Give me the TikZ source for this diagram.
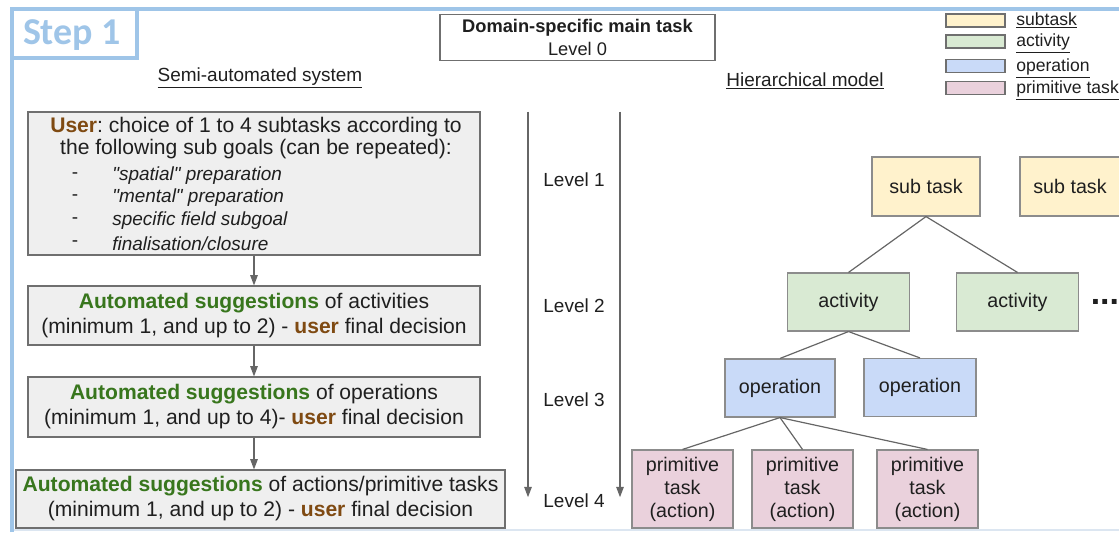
\documentclass[tikz,border=0pt]{standalone}
\usepackage{fontspec}
\setmainfont{Liberation Sans}
\newfontfamily\stepfont{Carlito}
\usepackage{xcolor}
\usepackage{tikz}
\usetikzlibrary{arrows.meta,calc,positioning}
\frenchspacing
\definecolor{Ink}{HTML}{1F1F1F}
\definecolor{FrameBlue}{HTML}{9FC5E8}
\definecolor{FrameFaint}{HTML}{DCE6F1}
\definecolor{BoxGray}{HTML}{EFEFEF}
\definecolor{BoxLine}{HTML}{6F6F6F}
\definecolor{EdgeGray}{HTML}{666666}
\definecolor{UserBrown}{HTML}{7F4A12}
\definecolor{SuggestGreen}{HTML}{38761D}
\definecolor{SubFill}{HTML}{FFF2CC}
\definecolor{ActFill}{HTML}{D9EAD3}
\definecolor{OpFill}{HTML}{C9DAF8}
\definecolor{PrimFill}{HTML}{EAD1DC}
\newcommand{\usr}[1]{\textbf{\color{UserBrown}#1}}
\newcommand{\sugg}{\textbf{\color{SuggestGreen}Automated suggestions}}
\tikzset{
  frameline/.style={draw=FrameBlue,line width=2.8pt},
  titlebox/.style={draw=BoxLine,fill=white,line width=0.8pt,align=center,minimum width=6.875cm,minimum height=1.125cm,font=\fontsize{13}{16}\selectfont,text=Ink},
  heading/.style={font=\fontsize{13.5}{16}\selectfont,text=Ink},
  swatch/.style={draw=BoxLine,line width=0.8pt,minimum width=1.475cm,minimum height=0.325cm,inner sep=0pt},
  legendlabel/.style={anchor=base west,font=\fontsize{12.5}{14}\selectfont,text=Ink,inner sep=0pt},
  stepbox/.style={draw=BoxLine,fill=BoxGray,line width=0.8pt,align=center,font=\fontsize{15}{17.8}\selectfont,text=Ink,inner sep=0pt},
  listdash/.style={font=\fontsize{13.5}{16}\selectfont,text=Ink,inner sep=0pt},
  listitem/.style={anchor=west,font=\fontsize{13.5}{16}\selectfont\itshape,text=Ink,inner sep=0pt},
  flow/.style={-{Triangle[length=2.6mm,width=1.9mm]},draw=EdgeGray,fill=EdgeGray,line width=0.8pt},
  levellabel/.style={font=\fontsize{13.5}{16}\selectfont,text=Ink},
  treebox/.style={draw=BoxLine!80,line width=0.8pt,align=center,font=\fontsize{14}{16.4}\selectfont,text=Ink,inner sep=0pt},
  subtask/.style={treebox,fill=SubFill,minimum width=2.7cm,minimum height=1.475cm},
  activity/.style={treebox,fill=ActFill,minimum width=3.05cm,minimum height=1.45cm},
  operation/.style={treebox,fill=OpFill,minimum width=2.75cm,minimum height=1.45cm},
  primitive/.style={treebox,fill=PrimFill,minimum width=2.525cm,minimum height=1.95cm},
  treeedge/.style={draw=EdgeGray,line width=0.85pt}
}

\begin{document}
\begin{tikzpicture}[x=1cm,y=1cm]
  \useasboundingbox (0,0) rectangle (27.975,13.3);

  % frame and step label
  \draw[FrameFaint,line width=1.4pt] (0.3,0.04) -- (27.975,0.04);
  \draw[frameline] (0.3,0) -- (0.3,13.075) -- (27.975,13.075);
  \draw[frameline] (0.3,11.85) rectangle (3.425,13.075);
  \node[text=FrameBlue,font=\stepfont\bfseries\fontsize{27}{30}\selectfont] (step) at (1.8,12.42) {Step 1};

  % main task and legend
  \node[titlebox] (main) at (14.4375,12.3625) {\textbf{Domain-specific main task}\\Level 0};
  \node[swatch,fill=SubFill] (lgsub) at (24.3875,12.7875) {};
  \node[swatch,fill=ActFill] (lgact) at (24.3875,12.2625) {};
  \node[swatch,fill=OpFill] (lgop) at (24.3875,11.65) {};
  \node[swatch,fill=PrimFill] (lgprim) at (24.3875,11.1) {};
  \node[legendlabel] (lgsubtxt) at (25.4,12.66) {\underline{subtask}};
  \node[legendlabel] (lgacttxt) at (25.4,12.135) {\underline{activity}};
  \node[legendlabel] (lgoptxt) at (25.4,11.52) {\underline{operation}};
  \node[legendlabel] (lgprimtxt) at (25.4,10.97) {\underline{primitive task}};

  \node[heading] (semi) at (6.5,11.35) {\underline{Semi-automated system}};
  \node[heading] (hier) at (20.125,11.275) {\underline{Hierarchical model}};

  % semi-automated steps
  \node[stepbox,minimum width=11.3cm,minimum height=3.575cm] (choice) at (6.35,8.7125) {};
  \node[align=center,font=\fontsize{15}{15.6}\selectfont,text=Ink,inner sep=0pt] (choicetxt) at (6.4,9.84) {\usr{User}: choice of 1 to 4 subtasks according to\\the following sub goals (can be repeated):};
  \node[listdash] (d1) at (1.875,8.9) {-};
  \node[listdash] (d2) at (1.875,8.35) {-};
  \node[listdash] (d3) at (1.875,7.775) {-};
  \node[listdash] (d4) at (1.875,7.2) {-};
  \node[listitem] (g1) at (2.8,8.9) {\textquotedbl spatial\textquotedbl{} preparation};
  \node[listitem] (g2) at (2.8,8.35) {\textquotedbl mental\textquotedbl{} preparation};
  \node[listitem] (g3) at (2.8,7.775) {specific field subgoal};
  \node[listitem] (g4) at (2.8,7.2) {finalisation/closure};

  \node[stepbox,minimum width=11.3cm,minimum height=1.475cm] (sugact) at (6.35,5.4125) {\sugg{} of activities\\(minimum 1, and up to 2) - \usr{user} final decision};
  \node[stepbox,minimum width=11.3cm,minimum height=1.5cm] (sugop) at (6.35,3.125) {\sugg{} of operations\\(minimum 1, and up to 4)- \usr{user} final decision};
  \node[stepbox,minimum width=12.225cm,minimum height=1.45cm] (sugprim) at (6.5125,0.825) {\sugg{} of actions/primitive tasks\\(minimum 1, and up to 2) - \usr{user} final decision};

  \draw[flow] (choice.south) -- (sugact.north);
  \draw[flow] (sugact.south) -- (sugop.north);
  \draw[flow] (sugop.south) -- (sugop.south |- sugprim.north);

  % level axis
  \coordinate (axAtop) at (13.2,10.5);
  \coordinate (axAbot) at (13.2,0.87);
  \coordinate (axBtop) at (15.5,10.5);
  \coordinate (axBbot) at (15.5,0.87);
  \draw[flow] (axAtop) -- (axAbot);
  \draw[flow] (axBtop) -- (axBbot);
  \node[levellabel] (lv1) at (14.35,8.8) {Level 1};
  \node[levellabel] (lv2) at (14.35,5.65) {Level 2};
  \node[levellabel] (lv3) at (14.35,3.3) {Level 3};
  \node[levellabel] (lv4) at (14.35,0.775) {Level 4};

  % hierarchical model
  \node[subtask] (st1) at (23.15,8.6375) {sub task};
  \node[subtask,minimum width=2.5cm] (st2) at (26.75,8.6375) {sub task};
  \node[activity] (act1) at (21.2125,5.75) {activity};
  \node[activity] (act2) at (25.4375,5.75) {activity};
  \node[font=\bfseries\fontsize{24}{24}\selectfont,text=Ink,inner sep=0pt] (more) at (27.62,5.75) {...};
  \node[operation] (op1) at (19.5,3.6) {operation};
  \node[operation,minimum width=2.8cm] (op2) at (23.0,3.6125) {operation};
  \node[primitive] (pr1) at (17.0625,1.075) {primitive\\task\\(action)};
  \node[primitive] (pr2) at (20.0625,1.075) {primitive\\task\\(action)};
  \node[primitive] (pr3) at (23.1875,1.075) {primitive\\task\\(action)};

  \draw[treeedge] (st1.south) -- (act1.north);
  \draw[treeedge] (st1.south) -- (act2.north);
  \draw[treeedge] (act1.south) -- (op1.north);
  \draw[treeedge] (act1.south) -- (op2.north);
  \draw[treeedge] (op1.south) -- (pr1.north);
  \draw[treeedge] (op1.south) -- (pr2.north);
  \draw[treeedge] (op1.south) -- (pr3.north);
\end{tikzpicture}
\end{document}
